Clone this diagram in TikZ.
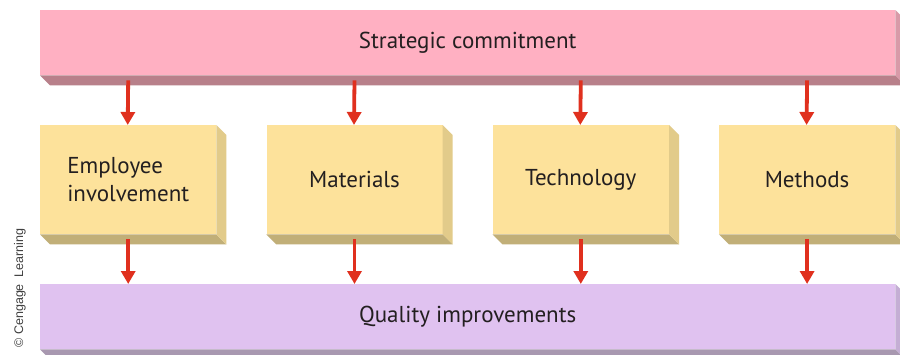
\documentclass[tikz,border=0pt]{standalone}
\usepackage{fontspec}
\setmainfont{PT Sans}
\usetikzlibrary{arrows.meta}
\definecolor{pinkF}{HTML}{FFB0C2}
\definecolor{pinkB}{HTML}{B8808A}
\definecolor{pinkS}{HTML}{D89AA8}
\definecolor{yelF}{HTML}{FDE29B}
\definecolor{yelB}{HTML}{C1AF78}
\definecolor{yelS}{HTML}{E2CB8A}
\definecolor{purF}{HTML}{E0C2F0}
\definecolor{purB}{HTML}{A898B0}
\definecolor{purS}{HTML}{C4AED4}
\definecolor{arrred}{HTML}{E0301E}
\definecolor{txt}{HTML}{231F20}
\tikzset{
  face/.style={anchor=north west, inner sep=0pt, text=txt, font=\fontsize{23}{28}\selectfont, align=left},
  bar/.style={face, minimum width=855pt, minimum height=65pt},
  card/.style={face, minimum width=176pt, minimum height=109pt},
  arr/.style={draw=arrred, line width=3.8pt, -{Triangle[width=14pt,length=13pt]}},
}
\newcommand{\depth}[4]{% node, bottom color, side color, depth
  \fill[#2] (#1.south west) -- (#1.south east) -- ([xshift=#4pt,yshift=-#4pt]#1.south east) -- ([xshift=#4pt,yshift=-#4pt]#1.south west) -- cycle;
  \fill[#3] (#1.north east) -- ([xshift=#4pt,yshift=-#4pt]#1.north east) -- ([xshift=#4pt,yshift=-#4pt]#1.south east) -- (#1.south east) -- cycle;
}
\begin{document}
\begin{tikzpicture}[x=1pt,y=-1pt]
\useasboundingbox (0,0) rectangle (900,354);
\clip (0,0) rectangle (900,354);
\fill[white] (0,0) rectangle (900,354);
\node[bar, fill=pinkF] (top) at (40,10) {Strategic commitment};
\depth{top}{pinkB}{pinkS}{10}
\node[card, fill=yelF] (b1) at (40,125) {Employee\\involvement};
\node[card, fill=yelF] (b2) at (266.3,125) {Materials};
\node[card, fill=yelF] (b3) at (492.6,125) {Technology};
\node[card, fill=yelF] (b4) at (718.9,125) {Methods};
\foreach \b in {b1,b2,b3,b4}{\depth{\b}{yelB}{yelS}{10}}
\node[bar, fill=purF] (bot) at (40,284) {Quality improvements};
\depth{bot}{purB}{purS}{10}
\foreach \b in {b1,b2,b3,b4}{
  \draw[arr] ([yshift=-5pt]top.south -| \b.north) -- ([xshift=-0.5pt]\b.north);
  \draw[arr] ([yshift=-5pt]\b.south) -- (bot.north -| \b.south);
}
\node[rotate=90, anchor=west, text=black!75, font=\fontspec{Liberation Sans}\fontsize{12.5}{14}\selectfont] (cr) at (20,351) {\textcopyright\ Cengage\ \ Learning};
\end{tikzpicture}
\end{document}
